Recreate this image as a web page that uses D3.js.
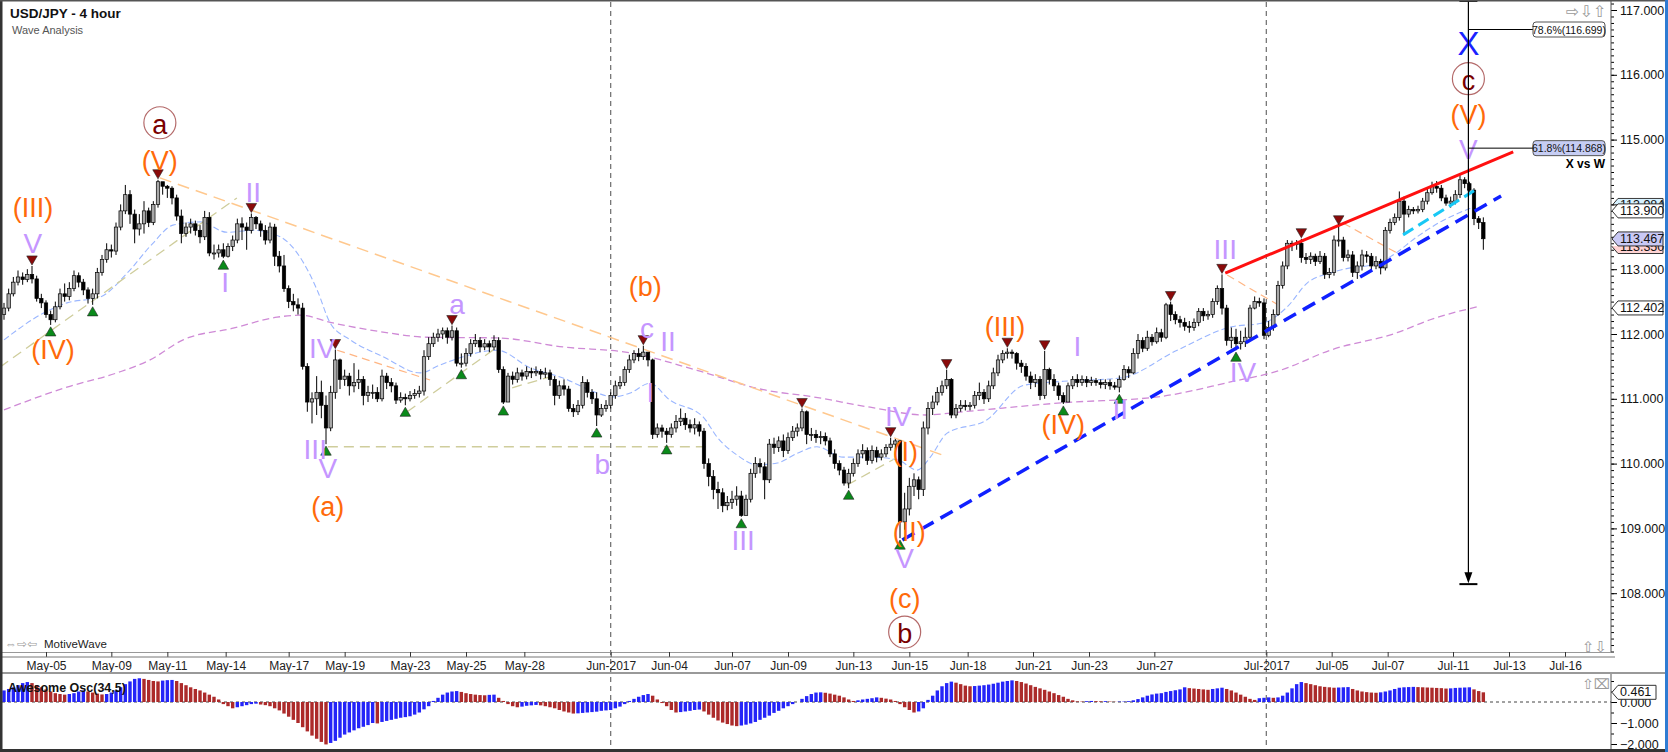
<!DOCTYPE html>
<html lang="en">
<head>
  <meta charset="UTF-8">
  <title>USD/JPY - 4 hour</title>
  <script src="https://d3js.org/d3.v7.min.js"></script>
  <style>
    body { margin: 0; overflow: hidden; background: #fff; }
    svg { display: block; }
    text { font-family: "Liberation Sans", Arial, "DejaVu Sans", sans-serif; }
  </style>
</head>
<body>
<script>
  // ---- price data, one 4h bar per value (open = previous close) ----
  const firstOpen = 112.30;
  const closes = [
    112.40,112.62,112.80,112.88,112.84,112.92,112.85,112.55,112.48,112.30,
    112.22,112.42,112.62,112.58,112.70,112.90,112.80,112.68,112.55,112.62,
    112.95,113.15,113.30,113.28,113.65,113.90,114.15,113.85,113.62,113.70,
    113.90,113.72,114.00,114.35,114.28,114.25,114.10,113.82,113.55,113.65,
    113.70,113.60,113.50,113.80,113.25,113.25,113.30,113.20,113.35,113.45,
    113.70,113.65,113.60,113.80,113.70,113.60,113.45,113.65,113.20,113.05,
    112.70,112.50,112.45,112.40,111.50,110.95,111.00,111.10,110.90,110.55,
    111.10,111.60,111.30,111.35,111.20,111.25,111.30,111.05,111.10,111.10,
    111.00,111.35,111.25,111.20,110.98,111.02,111.00,111.05,111.08,111.12,
    111.65,111.85,111.95,112.00,112.05,111.95,112.05,111.55,111.55,111.70,
    111.85,111.90,111.80,111.85,111.80,111.90,111.45,110.95,111.35,111.30,
    111.40,111.35,111.42,111.40,111.42,111.38,111.40,111.30,111.05,111.20,
    111.15,110.85,110.80,110.90,111.25,111.10,111.00,110.75,110.85,110.90,
    111.05,111.20,111.25,111.45,111.60,111.70,111.65,111.72,111.60,110.45,
    110.55,110.50,110.45,110.55,110.65,110.70,110.60,110.55,110.60,110.50,
    110.00,109.80,109.60,109.55,109.35,109.40,109.45,109.50,109.20,109.45,
    109.85,110.00,109.95,109.75,110.30,110.25,110.35,110.20,110.40,110.50,
    110.55,110.80,110.45,110.45,110.40,110.42,110.35,110.15,110.00,109.90,
    109.70,109.85,110.00,110.15,110.20,110.05,110.20,110.10,110.15,110.25,
    110.30,110.35,109.10,109.30,109.65,109.75,109.60,110.55,110.85,110.95,
    111.10,111.20,111.30,110.75,110.85,110.90,110.88,110.90,111.05,111.10,
    111.00,111.20,111.40,111.60,111.70,111.72,111.70,111.55,111.50,111.35,
    111.25,111.30,111.05,111.45,111.30,111.20,111.05,110.95,111.20,111.30,
    111.25,111.30,111.25,111.28,111.25,111.22,111.25,111.20,111.18,111.30,
    111.45,111.40,111.70,111.90,111.78,111.95,111.88,112.02,111.95,112.45,
    112.30,112.22,112.18,112.12,112.10,112.18,112.35,112.28,112.30,112.50,
    112.70,112.40,111.90,111.95,111.85,111.88,111.95,112.40,112.50,112.48,
    111.98,112.10,112.30,112.75,113.05,113.40,113.38,113.40,113.18,113.15,
    113.20,113.12,113.20,112.92,112.95,113.45,113.45,113.18,113.22,112.95,
    113.05,113.22,113.20,113.05,113.12,113.02,113.60,113.72,113.80,114.05,
    113.85,113.92,113.90,113.92,114.05,114.18,114.28,114.25,114.10,114.02,
    114.05,114.15,114.38,114.32,114.22,113.78,113.72,113.47
  ];
  const highs = [
    112.48,112.70,112.88,112.98,112.95,113.00,113.05,112.90,112.62,112.52,
    112.36,112.50,112.70,112.78,112.80,112.98,112.95,112.85,112.72,112.70,
    113.02,113.22,113.40,113.38,113.72,114.00,114.30,114.22,113.92,113.85,
    114.05,113.95,114.05,114.38,114.33,114.30,114.28,114.15,113.92,113.72,
    113.78,113.75,113.68,113.90,113.88,113.38,113.38,113.40,113.40,113.52,
    113.78,113.80,113.72,113.86,113.82,113.75,113.68,113.72,113.70,113.28,
    113.22,112.75,112.62,112.55,112.48,111.55,111.10,111.35,111.28,111.05,
    111.20,111.76,111.62,111.45,111.40,111.55,111.45,111.35,111.20,111.22,
    111.18,111.45,111.40,111.32,111.25,111.10,111.08,111.12,111.15,111.20,
    111.75,111.95,112.02,112.08,112.10,112.10,112.13,112.10,111.70,111.78,
    111.92,112.00,111.95,111.92,111.90,111.98,111.95,111.50,111.40,111.42,
    111.48,111.45,111.50,111.48,111.50,111.46,111.48,111.45,111.35,111.28,
    111.30,111.20,110.92,110.98,111.35,111.30,111.15,111.10,110.92,110.98,
    111.10,111.28,111.35,111.50,111.68,111.75,111.78,111.82,111.70,111.62,
    110.62,110.60,110.55,110.62,110.75,110.85,110.78,110.68,110.70,110.65,
    110.55,110.08,109.90,109.72,109.62,109.50,109.58,109.65,109.58,109.52,
    109.92,110.10,110.08,110.02,110.38,110.40,110.42,110.45,110.48,110.58,
    110.62,110.85,110.82,110.55,110.52,110.50,110.48,110.40,110.22,110.05,
    109.95,109.92,110.08,110.22,110.30,110.25,110.28,110.26,110.22,110.30,
    110.40,110.38,110.36,109.55,109.78,109.85,109.80,110.65,110.95,111.05,
    111.18,111.28,111.45,111.32,110.92,110.98,110.98,110.95,111.12,111.25,
    111.15,111.28,111.48,111.68,111.75,111.78,111.76,111.72,111.60,111.55,
    111.42,111.38,111.35,111.74,111.48,111.38,111.25,111.10,111.25,111.35,
    111.38,111.36,111.35,111.34,111.32,111.30,111.30,111.30,111.26,111.36,
    111.52,111.50,111.78,112.00,111.95,112.05,112.00,112.10,112.08,112.48,
    112.50,112.35,112.28,112.25,112.20,112.24,112.40,112.40,112.36,112.55,
    112.75,112.92,112.45,112.10,112.08,112.05,112.10,112.45,112.58,112.56,
    112.55,112.20,112.38,112.82,113.12,113.45,113.44,113.45,113.47,113.25,
    113.26,113.24,113.28,113.25,113.02,113.52,113.67,113.50,113.30,113.28,
    113.12,113.30,113.28,113.25,113.20,113.16,113.65,113.78,113.86,114.20,
    114.12,113.98,113.96,113.98,114.10,114.25,114.35,114.36,114.30,114.15,
    114.12,114.22,114.45,114.42,114.35,114.25,113.82,113.80
  ];
  const lows = [
    112.22,112.35,112.58,112.75,112.76,112.80,112.78,112.50,112.40,112.25,
    112.14,112.18,112.38,112.50,112.52,112.66,112.72,112.60,112.47,112.45,
    112.55,112.90,113.10,113.18,113.22,113.60,113.85,113.70,113.40,113.52,
    113.55,113.65,113.68,113.95,114.15,114.10,114.00,113.75,113.40,113.50,
    113.55,113.52,113.40,113.45,113.20,113.15,113.18,113.17,113.18,113.28,
    113.40,113.45,113.30,113.55,113.62,113.50,113.38,113.40,113.05,112.95,
    112.65,112.40,112.35,112.30,111.45,110.80,110.62,110.75,110.70,110.30,
    110.50,111.00,111.15,111.20,111.05,111.10,111.15,110.90,110.95,111.00,
    110.95,110.96,111.15,111.10,110.92,110.94,110.90,110.96,111.00,111.02,
    111.05,111.60,111.80,111.88,111.92,111.85,111.90,111.50,111.48,111.50,
    111.65,111.80,111.72,111.75,111.72,111.75,111.40,110.92,110.98,111.22,
    111.25,111.28,111.30,111.32,111.35,111.30,111.32,111.20,110.90,111.00,
    111.05,110.80,110.72,110.75,110.85,111.02,110.92,110.58,110.72,110.80,
    110.85,111.00,111.15,111.20,111.40,111.55,111.58,111.60,111.50,110.38,
    110.40,110.40,110.32,110.40,110.48,110.58,110.52,110.48,110.45,110.42,
    109.92,109.65,109.45,109.30,109.25,109.28,109.30,109.35,109.18,109.22,
    109.40,109.78,109.85,109.45,109.70,110.15,110.18,110.10,110.15,110.35,
    110.42,110.50,110.30,110.35,110.32,110.30,110.28,110.10,109.92,109.82,
    109.66,109.62,109.80,109.95,110.08,109.98,110.00,110.02,110.05,110.10,
    110.20,110.22,108.85,108.98,109.20,109.50,109.45,109.50,110.45,110.75,
    110.90,111.05,111.15,110.70,110.70,110.80,110.82,110.82,110.85,110.98,
    110.92,110.95,111.15,111.35,111.55,111.62,111.62,111.45,111.40,111.28,
    111.15,111.18,110.98,111.00,111.22,111.12,110.98,110.92,110.95,111.15,
    111.18,111.20,111.18,111.20,111.20,111.16,111.15,111.14,111.14,111.10,
    111.28,111.32,111.38,111.62,111.72,111.74,111.82,111.85,111.88,111.92,
    112.20,112.15,112.10,112.05,112.02,112.05,112.12,112.20,112.22,112.25,
    112.45,112.30,111.82,111.78,111.75,111.76,111.80,111.90,112.38,112.42,
    111.92,111.95,112.05,112.28,112.70,113.00,113.28,113.30,113.10,113.08,
    113.08,113.05,113.08,112.85,112.86,112.90,113.35,113.12,113.12,112.88,
    112.85,112.98,113.10,112.98,113.00,112.92,112.98,113.55,113.68,113.75,
    113.55,113.80,113.85,113.86,113.88,114.00,114.15,114.18,114.05,113.98,
    113.95,114.00,114.10,114.25,114.15,113.68,113.62,113.30
  ];

  // Awesome Oscillator (34,5), one value per bar
  const aoValues = [
    0.55,0.62,0.70,0.80,0.90,0.95,0.90,0.80,0.70,0.60,
    0.50,0.42,0.38,0.35,0.38,0.42,0.50,0.55,0.50,0.45,
    0.40,0.36,0.38,0.45,0.55,0.70,0.85,0.98,1.10,1.13,
    1.10,1.05,1.00,0.98,1.02,1.04,1.05,1.00,0.90,0.80,
    0.70,0.62,0.55,0.45,0.35,0.25,0.12,-0.10,-0.20,-0.30,
    -0.25,-0.20,-0.15,-0.10,-0.08,-0.12,-0.15,-0.20,-0.30,-0.40,
    -0.55,-0.70,-0.85,-1.00,-1.20,-1.40,-1.60,-1.75,-1.90,-2.02,
    -1.95,-1.85,-1.70,-1.55,-1.45,-1.35,-1.25,-1.18,-1.10,-1.00,
    -1.02,-0.95,-0.90,-0.85,-0.80,-0.75,-0.72,-0.68,-0.60,-0.50,
    -0.35,-0.20,0.05,0.20,0.35,0.45,0.50,0.52,0.48,0.42,
    0.38,0.35,0.33,0.32,0.34,0.35,0.20,0.05,-0.10,-0.20,
    -0.25,-0.22,-0.18,-0.16,-0.14,-0.16,-0.20,-0.25,-0.30,-0.38,
    -0.45,-0.50,-0.55,-0.54,-0.52,-0.50,-0.48,-0.46,-0.42,-0.40,
    -0.38,-0.30,-0.22,-0.10,0.05,0.15,0.25,0.33,0.38,0.30,
    0.12,-0.05,-0.20,-0.38,-0.50,-0.48,-0.45,-0.42,-0.38,-0.36,
    -0.45,-0.60,-0.75,-0.88,-0.98,-1.05,-1.12,-1.15,-1.12,-1.08,
    -1.02,-0.95,-0.85,-0.75,-0.65,-0.52,-0.42,-0.30,-0.20,-0.10,
    0.00,0.15,0.28,0.38,0.45,0.46,0.44,0.40,0.35,0.30,
    0.22,0.12,0.05,0.08,0.12,0.15,0.18,0.22,0.20,0.16,
    0.12,0.05,-0.10,-0.25,-0.38,-0.50,-0.45,-0.30,0.10,0.30,
    0.55,0.75,0.90,0.97,0.92,0.85,0.78,0.75,0.76,0.78,
    0.80,0.83,0.87,0.92,0.97,1.00,1.03,1.00,0.95,0.88,
    0.80,0.72,0.65,0.58,0.50,0.42,0.33,0.25,0.15,0.08,
    0.03,0.02,0.04,0.05,0.04,0.03,0.04,0.02,0.01,0.02,
    0.02,0.04,0.08,0.14,0.22,0.30,0.36,0.40,0.42,0.48,
    0.52,0.56,0.60,0.70,0.66,0.64,0.62,0.60,0.58,0.62,
    0.65,0.68,0.62,0.55,0.45,0.35,0.25,0.15,0.10,0.18,
    0.20,0.22,0.20,0.22,0.30,0.45,0.65,0.85,0.95,0.90,
    0.85,0.80,0.75,0.72,0.70,0.68,0.69,0.70,0.71,0.62,
    0.55,0.50,0.47,0.45,0.44,0.46,0.50,0.55,0.62,0.68,
    0.70,0.71,0.72,0.71,0.70,0.69,0.68,0.67,0.66,0.64,
    0.65,0.67,0.68,0.69,0.70,0.60,0.52,0.461
  ];

  // moving averages as [bar, price]
  const fastMA = [[0,111.91],[8.4,112.32],[13.5,112.48],[20.6,112.57],[26.4,112.94],[31.9,113.40],[36.2,113.68],[42,113.73],
    [47.8,113.57],[53.4,113.60],[59.2,113.50],[63.4,113.19],[67.1,112.68],[69.9,112.17],[74.2,111.91],[81.2,111.65],
    [89.2,111.40],[93.4,111.52],[98.4,111.65],[105.7,111.75],[112.7,111.48],[119.8,111.32],[127.1,111.09],[130.5,111.03],
    [134.2,111.09],[138.4,111.24],[142.7,110.98],[149.8,110.72],[152.8,110.41],[157.1,110.13],[161.4,109.98],[165.7,110.01],
    [170,110.16],[174.2,110.26],[179.8,110.10],[185.6,110.10],[191.4,110.06],[195.7,109.90],[198.5,110.10],[202.1,110.47],
    [210.5,110.67],[218.6,111.21],[227,111.27],[239.2,111.32],[251.4,111.75],[263,112.11],[269.8,112.17],[275,112.42],
    [279.3,112.79],[284.2,112.94],[288.5,113.02],[292.8,113.06],[297,113.19],[302.8,113.50],[307.8,113.73],[314.2,113.94]];
  const slowMA = [[0,110.83],[13.5,111.18],[24.2,111.40],[31.3,111.60],[38.4,111.91],[49.1,112.09],[58.5,112.26],[63.4,112.29],
    [70.5,112.17],[81.2,112.03],[90.7,111.95],[105.7,111.94],[119.8,111.80],[134.2,111.71],[148.5,111.44],[162.7,111.14],
    [173.4,111.03],[185.6,110.87],[197.4,110.75],[205.5,110.80],[227,110.94],[247.3,111.03],[262.8,111.26],[273.5,111.44],
    [284.2,111.75],[298.5,112.02],[305.6,112.22],[315.7,112.42]];

  // swing markers (bar indices)
  const peakBars = [6, 33, 53, 71, 96, 137, 171, 190, 202, 215, 223, 250, 261, 278, 286];
  const troughBars = [10, 19, 47, 69, 86, 98, 107, 127, 142, 158, 181, 192, 227, 239, 264];

  // drawn lines: [bar1, price1, bar2, price2]
  const outerFan = [[33.4,114.41,201.2,110.13]];
  const tanLines = [[-0.86,111.49,49.9,114.10],[69.4,110.26,151.3,110.26],[86.4,110.80,105.7,111.80],[108.9,111.17,117,111.34],[180.7,109.67,190.5,110.06]];
  const thinOrange = [[71.4,111.75,91.3,111.29],[262.1,112.91,273,112.45],[287,113.71,298.5,113.25]];
  const redLine = [261.7,112.94,323.4,114.81];
  const blueLine = [192.5,108.82,320.8,114.13];
  const cyanLine = [299.8,113.53,315,114.21];

  // wave labels: [text, bar, price, kind]
  const waveLabels = [
    ['(III)',6.2,113.94,'o'],['V',6.2,113.40,'p'],['(IV)',10.5,111.75,'o'],
    ['a',33.4,115.26,'c'],['(V)',33.4,114.67,'o'],['I',47.4,112.80,'p'],['II',53.4,114.19,'p'],
    ['IV',68.2,111.78,'p'],['III',66.7,110.21,'p'],['V',69.4,109.93,'p'],['(a)',69.4,109.33,'o'],
    ['a',97.1,112.49,'p'],['b',128.2,110.02,'p'],['(b)',137.4,112.73,'o'],['c',137.8,112.11,'p'],
    ['II',142.3,111.88,'p'],['I',138.5,111.10,'p'],['III',158.4,108.82,'p'],
    ['IV',191.6,110.72,'p'],['(I)',193.1,110.18,'o'],['(II)',194,108.94,'o'],['V',193,108.53,'p'],
    ['(c)',193,107.91,'o'],['b',193,107.40,'c'],
    ['(III)',214.5,112.11,'o'],['I',230,111.80,'p'],['(IV)',227,110.60,'o'],['II',239.2,110.83,'p'],
    ['III',261.7,113.30,'p'],['IV',265.5,111.41,'p'],
    ['V',313.8,114.84,'p'],['(V)',313.8,115.38,'o'],['c',313.8,115.94,'c'],['X',313.8,116.49,'x']
  ];

  // projection tool
  const fibBar = 313.8, fibTop = 117.14, fibBottom = 108.14;
  const fibLevels = [['78.6%(116.699)', 116.699, '#ffffff'], ['61.8%(114.868)', 114.868, '#c6cdf4']];

  // axes
  const priceTicks = [108, 109, 110, 111, 112, 113, 114, 115, 116, 117];
  const oscTicks = [-2, -1, 0];
  const dateTickBars = [9, 23, 35, 47.5, 61, 73, 87, 99, 111.5, 130, 142.5, 156, 168, 182, 194, 206.5, 220.5, 232.5, 246.5, 270.5, 284.5, 296.5, 310.5, 322.5, 334.5];
  const dateTickLabels = ['May-05','May-09','May-11','May-14','May-17','May-19','May-23','May-25','May-28','Jun-2017','Jun-04','Jun-07','Jun-09','Jun-13','Jun-15','Jun-18','Jun-21','Jun-23','Jun-27','Jul-2017','Jul-05','Jul-07','Jul-11','Jul-13','Jul-16'];
  const monthBars = [130, 270.5];
  // value tags: [value, fill, value of the tag lying on top of it or null]
  const axisTags = [[113.984,'#d6f1ff',113.900],[113.35,'#ffd3d3',113.467],[113.900,'#ffffff',null],[113.467,'#c9c9f5',null],[112.402,'#ffffff',null]];

  const W = 1668, H = 752;
  const plotR = 1611;

  const svg = d3.select('body').append('svg')
    .attr('width', W)
    .attr('height', H);

  const x = d3.scaleLinear().domain([0, 345]).range([4, 1614]);
  const y = d3.scaleLinear().domain([108, 117]).range([593.2, 10]);
  const yo = d3.scaleLinear().domain([-2, 0]).range([744, 702]);

  svg.append('rect').attr('width', W).attr('height', H).attr('fill', '#fff');

  const defs = svg.append('defs');
  defs.append('clipPath').attr('id', 'mainClip')
    .append('rect').attr('x', 2).attr('y', 2).attr('width', plotR - 2).attr('height', 650);
  defs.append('clipPath').attr('id', 'oscClip')
    .append('rect').attr('x', 2).attr('y', 675).attr('width', plotR - 2).attr('height', 73);

  //Month separators run through both panels
  svg.selectAll('line.month').data(monthBars).join('line')
    .attr('x1', d => x(d)).attr('x2', d => x(d))
    .attr('y1', 2).attr('y2', 749)
    .attr('stroke', '#777').attr('stroke-width', 1.3)
    .attr('stroke-dasharray', '5,4');

  const plot = svg.append('g').attr('clip-path', 'url(#mainClip)');

  //Moving averages
  const maLine = d3.line().x(d => x(d[0])).y(d => y(d[1])).curve(d3.curveMonotoneX);
  plot.append('path').attr('d', maLine(slowMA))
    .attr('fill', 'none').attr('stroke', '#cf8ad6').attr('stroke-width', 1.3).attr('stroke-dasharray', '7,4');
  plot.append('path').attr('d', maLine(fastMA))
    .attr('fill', 'none').attr('stroke', '#9ab6ff').attr('stroke-width', 1.1).attr('stroke-dasharray', '6,3');

  //Trend lines
  const drawLines = (data, colour, width, dash) => {
    plot.append('g').selectAll('line').data(data).join('line')
      .attr('x1', d => x(d[0])).attr('y1', d => y(d[1]))
      .attr('x2', d => x(d[2])).attr('y2', d => y(d[3]))
      .attr('stroke', colour).attr('stroke-width', width)
      .attr('stroke-dasharray', dash);
  };
  drawLines(outerFan, '#ffc88e', 1.5, '12,7');
  drawLines(tanLines, '#cfcd9c', 1.3, '10,6');
  drawLines(thinOrange, '#ffb583', 1.2, '8,5');

  //Candles
  const bars = closes.map((c, i) => ({ i, o: i ? closes[i - 1] : firstOpen, c, h: highs[i], l: lows[i] }));
  const candle = plot.append('g').selectAll('g').data(bars).join('g');
  candle.append('line')
    .attr('x1', d => x(d.i)).attr('x2', d => x(d.i))
    .attr('y1', d => y(d.h)).attr('y2', d => y(d.l))
    .attr('stroke', '#000').attr('stroke-width', 1);
  candle.append('rect')
    .attr('x', d => x(d.i) - 1.7)
    .attr('width', 3.4)
    .attr('y', d => y(Math.max(d.o, d.c)))
    .attr('height', d => Math.max(1, Math.abs(y(d.o) - y(d.c))))
    .attr('fill', d => d.c >= d.o ? '#a8a8a8' : '#000')
    .attr('stroke', '#000').attr('stroke-width', 0.7);

  //Channel lines
  drawLines([redLine], '#ff1010', 3, null);
  drawLines([blueLine], '#1020ff', 3.5, '14,8');
  drawLines([cyanLine], '#18c8f5', 3, '12,6');

  //Swing markers
  const tri = d3.symbol().type(d3.symbolTriangle).size(48);
  plot.append('g').selectAll('path').data(peakBars).join('path')
    .attr('d', tri)
    .attr('transform', i => `translate(${x(i)},${y(highs[i]) - 7}) rotate(180)`)
    .attr('fill', '#8a0a0a').attr('stroke', '#222').attr('stroke-width', 0.6);
  plot.append('g').selectAll('path').data(troughBars).join('path')
    .attr('d', tri)
    .attr('transform', i => `translate(${x(i)},${y(lows[i]) + 8})`)
    .attr('fill', '#0a8a1a').attr('stroke', '#222').attr('stroke-width', 0.6);

  //Wave labels
  const labelStyle = {
    o: { fill: '#ff6a0a', size: 27 },
    p: { fill: '#c596ff', size: 28 },
    c: { fill: '#7a0000', size: 27 },
    x: { fill: '#1a22ff', size: 33 }
  };
  const lbl = plot.append('g').selectAll('g').data(waveLabels).join('g')
    .attr('transform', d => `translate(${x(d[1])},${y(d[2])})`);
  lbl.filter(d => d[3] === 'c').append('circle')
    .attr('r', 16).attr('fill', '#fff').attr('stroke', '#b46a6a').attr('stroke-width', 1.2);
  lbl.append('text')
    .attr('text-anchor', 'middle')
    .attr('dominant-baseline', 'central')
    .attr('dy', d => /^[abc]$/.test(d[0]) ? 2 : 0)
    .attr('font-size', d => labelStyle[d[3]].size)
    .attr('fill', d => labelStyle[d[3]].fill)
    .text(d => d[0]);

  //Projection tool
  const fx = x(fibBar);
  const fib = svg.append('g');
  fib.append('line').attr('x1', fx).attr('x2', fx).attr('y1', y(fibTop)).attr('y2', y(fibBottom) - 4)
    .attr('stroke', '#000').attr('stroke-width', 1.2);
  fib.selectAll('line.cap').data([fibTop, fibBottom]).join('line')
    .attr('x1', fx - 9).attr('x2', fx + 9).attr('y1', d => y(d)).attr('y2', d => y(d))
    .attr('stroke', '#000').attr('stroke-width', 2);
  fib.append('path')
    .attr('d', `M${fx - 4},${y(fibBottom) - 12} L${fx + 4},${y(fibBottom) - 12} L${fx},${y(fibBottom) - 1} Z`)
    .attr('fill', '#000');
  const lev = fib.selectAll('g.lev').data(fibLevels).join('g');
  lev.append('line')
    .attr('x1', fx).attr('x2', 1533).attr('y1', d => y(d[1])).attr('y2', d => y(d[1]))
    .attr('stroke', '#000').attr('stroke-width', 1);
  lev.append('rect')
    .attr('x', 1533).attr('y', d => y(d[1]) - 7.5).attr('width', 72).attr('height', 15).attr('rx', 3)
    .attr('fill', d => d[2]).attr('stroke', '#555');
  lev.append('text')
    .attr('x', 1569).attr('y', d => y(d[1])).attr('text-anchor', 'middle')
    .attr('dominant-baseline', 'central').attr('font-size', 10.5).attr('fill', '#111')
    .text(d => d[0]);
  fib.append('text').attr('x', 1605).attr('y', 164).attr('text-anchor', 'end')
    .attr('dominant-baseline', 'central').attr('font-size', 12).attr('font-weight', 'bold')
    .text('X vs W');

  //Price axis
  const pAxis = svg.append('g').attr('transform', `translate(${plotR},0)`)
    .call(d3.axisRight(y).tickValues(priceTicks).tickFormat(d3.format('.3f')).tickSize(6).tickPadding(3));
  pAxis.select('.domain').remove();
  pAxis.selectAll('text').attr('font-size', 12.5).attr('fill', '#111');
  svg.append('g').attr('transform', `translate(${plotR},0)`)
    .call(d3.axisRight(y).tickValues(d3.range(1071, 1172).map(v => v / 10)).tickFormat('').tickSize(3))
    .select('.domain').remove();
  svg.append('line').attr('x1', plotR).attr('x2', plotR).attr('y1', 0).attr('y2', 652).attr('stroke', '#555');

  //Value tags on the price axis; partly covered tags only show the part left uncovered
  axisTags.forEach((t, k) => {
    const yc = y(t[0]);
    const g = svg.append('g');
    if (t[2] !== null) {
      const yTop = y(t[2]);
      const id = 'tagClip' + k;
      const r = yc < yTop ? [yc - 8, yTop - 7 - (yc - 8)] : [yTop + 7, yc + 8 - (yTop + 7)];
      defs.append('clipPath').attr('id', id)
        .append('rect').attr('x', plotR).attr('y', r[0]).attr('width', 60).attr('height', r[1]);
      g.attr('clip-path', `url(#${id})`);
    }
    g.append('path')
      .attr('d', `M${plotR + 1},${yc} L${plotR + 7},${yc - 7} H1663 V${yc + 7} H${plotR + 7} Z`)
      .attr('fill', t[1]).attr('stroke', '#333');
    g.append('text').attr('x', plotR + 9).attr('y', yc).attr('dominant-baseline', 'central')
      .attr('font-size', 12.5).attr('fill', '#111')
      .text(d3.format('.3f')(t[0]));
  });

  //Date axis
  const dAxis = svg.append('g').attr('transform', 'translate(0,652)')
    .call(d3.axisBottom(x).tickValues(dateTickBars).tickFormat((d, i) => dateTickLabels[i]).tickSize(5).tickPadding(4));
  dAxis.select('.domain').attr('d', `M2,0.5H${plotR}`).attr('stroke', '#999');
  dAxis.selectAll('text').attr('font-size', 12).attr('fill', '#222');
  dAxis.selectAll('.tick line').attr('stroke', '#333');
  svg.append('line').attr('x1', 2).attr('x2', plotR + 4).attr('y1', 657).attr('y2', 657).attr('stroke', '#777');
  svg.append('line').attr('x1', 2).attr('x2', W - 3).attr('y1', 673).attr('y2', 673).attr('stroke', '#999').attr('stroke-width', 2);

  //Awesome oscillator
  const osc = svg.append('g').attr('clip-path', 'url(#oscClip)');
  osc.append('line').attr('x1', 2).attr('x2', plotR).attr('y1', yo(0)).attr('y2', yo(0))
    .attr('stroke', '#444').attr('stroke-dasharray', '3,3');
  osc.selectAll('rect').data(aoValues).join('rect')
    .attr('x', (d, i) => x(i) - 1.7)
    .attr('width', 3.4)
    .attr('y', d => Math.min(yo(d), yo(0)))
    .attr('height', d => Math.abs(yo(d) - yo(0)))
    .attr('fill', (d, i) => i === 0 || d >= aoValues[i - 1] ? '#2424f8' : '#ac2a2a');
  svg.append('text').attr('x', 8).attr('y', 692).attr('font-size', 12.5).attr('font-weight', 'bold')
    .attr('fill', '#111').text('Awesome Osc(34,5)');

  const oAxis = svg.append('g').attr('transform', `translate(${plotR},0)`)
    .call(d3.axisRight(yo).tickValues(oscTicks).tickFormat(d3.format('.3f')).tickSize(6).tickPadding(3));
  oAxis.select('.domain').remove();
  oAxis.selectAll('text').attr('font-size', 12.5).attr('fill', '#111');
  svg.append('g').attr('transform', `translate(${plotR},0)`)
    .call(d3.axisRight(yo).tickValues(d3.range(-4, 3).map(v => v / 2)).tickFormat('').tickSize(3))
    .select('.domain').remove();
  svg.append('line').attr('x1', plotR).attr('x2', plotR).attr('y1', 674).attr('y2', 750).attr('stroke', '#555');
  const aoLast = aoValues[aoValues.length - 1];
  svg.append('path')
    .attr('d', `M${plotR + 1},${yo(aoLast)} L${plotR + 7},${yo(aoLast) - 7} H1656 V${yo(aoLast) + 7} H${plotR + 7} Z`)
    .attr('fill', '#fff').attr('stroke', '#333');
  svg.append('text').attr('x', plotR + 9).attr('y', yo(aoLast)).attr('dominant-baseline', 'central')
    .attr('font-size', 12.5).attr('fill', '#111').text(d3.format('.3f')(aoLast));

  //Title block
  svg.append('text').attr('x', 10).attr('y', 18).attr('font-size', 13.5).attr('font-weight', 'bold')
    .attr('fill', '#111').text('USD/JPY - 4 hour');
  svg.append('text').attr('x', 12).attr('y', 34).attr('font-size', 11).attr('fill', '#555').text('Wave Analysis');

  //Toolbar glyphs
  const glyph = (tx, ty, s, size) => svg.append('text').attr('x', tx).attr('y', ty)
    .attr('font-family', '"DejaVu Sans", sans-serif').attr('font-size', size)
    .attr('fill', '#9a9a9a').attr('dominant-baseline', 'central').text(s);
  glyph(1566, 11, '⇨⇩⇧', 16);
  glyph(5, 644, '⇔⇨⇦', 12);
  svg.append('text').attr('x', 44).attr('y', 644).attr('dominant-baseline', 'central')
    .attr('font-size', 11.5).attr('fill', '#222').text('MotiveWave');
  glyph(1582, 646, '⇧⇩', 15);
  glyph(1582, 684, '⇧⌧', 14);

  //Window frame
  svg.append('rect').attr('x', 0).attr('y', 0).attr('width', 2.5).attr('height', H).attr('fill', '#333');
  svg.append('rect').attr('x', 0).attr('y', 0).attr('width', W).attr('height', 1.5).attr('fill', '#555');
  svg.append('rect').attr('x', 0).attr('y', 749).attr('width', W).attr('height', 3).attr('fill', '#333');
  svg.append('rect').attr('x', W - 3).attr('y', 0).attr('width', 3).attr('height', H).attr('fill', '#2f7bd2');
</script>
</body>
</html>
